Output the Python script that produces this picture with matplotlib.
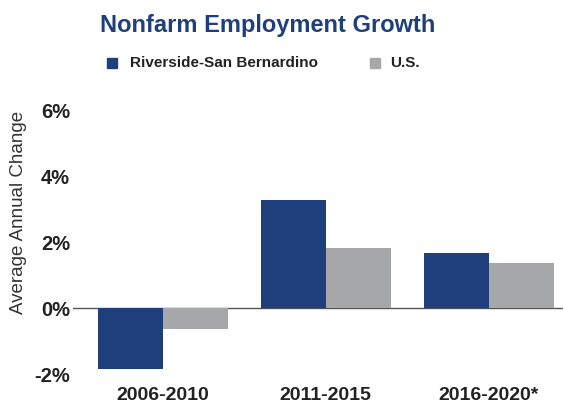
import matplotlib.pyplot as plt
import numpy as np

periods = ['2006-2010', '2011-2015', '2016-2020*']
riverside = [-1.85, 3.27, 1.67]
us = [-0.64, 1.82, 1.36]
yticks = [-2, 0, 2, 4, 6]

navy = '#1e3f7c'
grey = '#a6a7a9'

plt.rcParams['font.family'] = ['Liberation Sans', 'DejaVu Sans']

fig = plt.figure(figsize=(5.64, 4.08), dpi=100)
ax = fig.add_axes([0.129, 0.083, 0.869, 0.647])

x = np.arange(len(periods))
w = 0.4
ax.bar(x - w / 2, riverside, w, color=navy, label='Riverside-San Bernardino')
ax.bar(x + w / 2, us, w, color=grey, label='U.S.')
ax.axhline(0, color='#555555', linewidth=1.0, zorder=0)

ax.set_xlim(-0.552, 2.454)
ax.set_ylim(-2, 6)
ax.set_yticks(yticks)
ax.set_yticklabels([f'{t}%' for t in yticks], fontsize=14.5, fontweight='bold', color='#222222')
ax.set_xticks(x)
ax.set_xticklabels(periods, fontsize=14, fontweight='bold', color='#222222')
ax.tick_params(axis='both', length=0)
ax.tick_params(axis='y', pad=2)
ax.tick_params(axis='x', pad=9)
for s in ax.spines.values():
    s.set_visible(False)

fig.text(0.032, 0.48, 'Average Annual Change', rotation=90, ha='center', va='center',
         fontsize=13.5, color='#333333')
fig.text(0.475, 0.938, 'Nonfarm Employment Growth', ha='center', va='center',
         fontsize=17, fontweight='bold', color=navy)

# legend drawn manually as squares plus labels
fig.patches.append(plt.Rectangle((0.19, 0.833), 0.018, 0.025, color=navy, transform=fig.transFigure))
fig.text(0.23, 0.845, 'Riverside-San Bernardino', ha='left', va='center', fontsize=11,
         fontweight='bold', color='#222222')
fig.patches.append(plt.Rectangle((0.656, 0.833), 0.018, 0.025, color=grey, transform=fig.transFigure))
fig.text(0.692, 0.845, 'U.S.', ha='left', va='center', fontsize=11,
         fontweight='bold', color='#222222')

fig.savefig('out.png', dpi=100)
